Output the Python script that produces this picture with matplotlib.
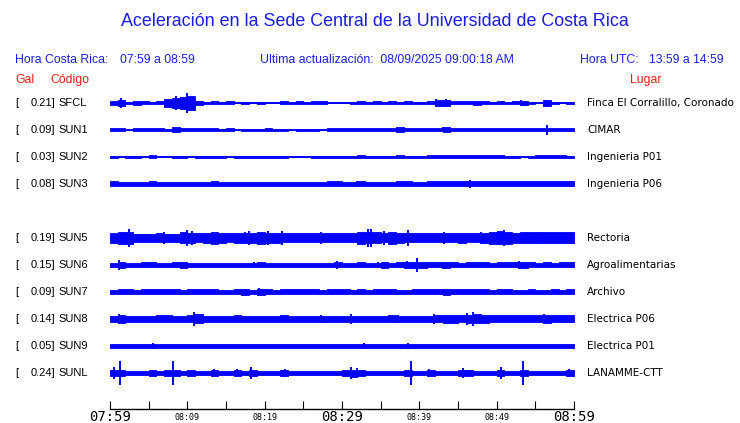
import matplotlib
matplotlib.use("Agg")
import matplotlib.pyplot as plt
import matplotlib.transforms as mtransforms
import numpy as np

# estaciones (codigo, PGA en gal, lugar, fila en la grafica)
codes = ["SFCL", "SUN1", "SUN2", "SUN3", "SUN5", "SUN6", "SUN7", "SUN8", "SUN9", "SUNL"]
pga = [0.21, 0.09, 0.03, 0.08, 0.19, 0.15, 0.09, 0.14, 0.05, 0.24]
places = ["Finca El Corralillo, Coronado", "CIMAR", "Ingenieria P01", "Ingenieria P06",
          "Rectoria", "Agroalimentarias", "Archivo", "Electrica P06", "Electrica P01",
          "LANAMME-CTT"]
rows = [0, 1, 2, 3, 5, 6, 7, 8, 9, 10]

# eje de tiempo (minutos desde 07:59)
tick_minutes = [0, 5, 10, 15, 20, 25, 30, 35, 40, 45, 50, 55, 60]
major_minutes = [0, 30, 60]
major_labels = ["07:59", "08:29", "08:59"]
minor_minutes = [10, 20, 40, 50]
minor_labels = ["08:09", "08:19", "08:39", "08:49"]

env = {
    "SFCL": [2, 3, 1, 2, 1.5, 1, 1.5, 4, 5, 6, 7, 2, 1, 1.5, 1, 1.5, 0.5, 1, 0.5, 1,
             0.5, 0.5, 1.5, 1, 1.5, 1, 1.5, 1.5, 0.5, 0.5, 0.5, 1, 1.5, 1, 1.5, 1, 1.5, 1, 1.5, 1,
             1, 1.5, 3, 3, 1.5, 1.5, 1.5, 2, 1.5, 1, 1.5, 1, 1.5, 2, 1, 0.5, 3, 1, 0.5, 1],
    "SUN1": [1.5, 1.5, 0.5, 1.5, 1.5, 1.5, 1.5, 1, 2.5, 1.5, 1.5, 1.5, 1.5, 1.5, 1, 1.5, 0.5, 1, 1, 1,
             1.5, 1, 1, 0.5, 1, 1, 1, 0.5, 1.5, 1.5, 1.5, 1.5, 1.5, 1.5, 1.5, 1.5, 1.5, 2.5, 1.5, 1.5,
             1.5, 1.5, 1.5, 2.5, 1.5, 1.5, 1.5, 1.5, 1.5, 1.5, 1.5, 1.5, 1.5, 1.5, 1.5, 1.5, 1.5, 1.5, 1.5, 1.5],
    "SUN2": [1, 0.5, 1, 1, 0.5, 1.5, 0.5, 0.5, 1, 1, 0.5, 1, 1, 1, 1, 0.5, 1, 1, 1, 1,
             1, 1, 1, 0.5, 0.5, 0.5, 1, 1, 1, 1, 1, 1, 1.5, 1, 1, 1, 1, 1.5, 1, 1,
             1, 1.5, 1.5, 1.5, 1.5, 1.5, 1.5, 1.5, 1.5, 1.5, 1.5, 1, 1, 0.5, 1, 1.5, 1.5, 1.5, 1.5, 1],
    "SUN3": [2.5, 2, 2, 2, 2, 2.5, 2, 2, 2, 2, 2, 2, 2, 2.5, 2, 2, 2, 2, 2, 2,
             2, 2, 2, 2, 2, 2, 2, 2, 2.5, 2.5, 2, 2, 2.5, 2, 2, 2, 2, 2.5, 2.5, 2,
             2, 2.5, 2.5, 2.5, 2.5, 2.5, 2.5, 2.5, 2.5, 2.5, 2.5, 2.5, 2.5, 2.5, 2.5, 2.5, 2.5, 2.5, 2.5, 2.5],
    "SUN5": [5, 6, 6, 4, 4, 4, 4.5, 4, 4, 5.5, 5, 4.5, 5, 6, 5, 4.5, 5, 5, 5, 6,
             5, 5, 4.5, 4.5, 4.5, 4.5, 4.5, 4.5, 4.5, 4.5, 4.5, 4.5, 6, 5.5, 5.5, 4.5, 6, 5, 4.5, 4.5,
             4.5, 4.5, 4.5, 4.5, 4.5, 5, 4.5, 4.5, 5, 6, 6.5, 6, 5, 5.5, 5.5, 5.5, 5.5, 5.5, 5.5, 5.5],
    "SUN6": [2.2, 3, 2.2, 2.2, 2.5, 2.5, 2.2, 2.2, 2.5, 2.7, 2.2, 2.2, 2.2, 2.2, 2.2, 2.2, 2.2, 2.2, 2.2, 2.5,
             2.2, 2.2, 2.2, 2.2, 2.2, 2.2, 2.2, 2.2, 2.2, 2.5, 2.2, 2.2, 2.5, 2.2, 2.2, 2.7, 2.2, 2.5, 2.7, 2.7,
             3, 2.5, 2.5, 3, 2.5, 2.2, 2.5, 2.5, 2.5, 2.2, 2.5, 2.5, 2.5, 3, 2.5, 2.2, 2.5, 2.2, 2.5, 2.5],
    "SUN7": [2, 2.5, 2.5, 2, 2.5, 2.5, 2.5, 2.5, 2.5, 2, 2.5, 2.5, 2.5, 2.5, 2, 2, 2.5, 3, 2, 3,
             2.5, 2, 2.5, 2.5, 2.5, 2.5, 2.5, 2, 2.5, 2.5, 2.5, 2, 2.5, 2, 2.5, 2.5, 2.5, 2, 2, 2.5,
             2.5, 2.5, 2.5, 3, 2.5, 2.5, 2.5, 2.5, 2.5, 2, 2.5, 2.5, 2, 2, 2.5, 2, 2, 2.5, 2, 2.5],
    "SUN8": [3, 4, 3, 3, 3, 3, 3.5, 3.5, 3, 3, 3.5, 4.5, 3, 3, 3, 3, 3.5, 3, 3, 3,
             3, 3, 3.5, 3, 2.5, 2.5, 2.5, 3, 3, 3, 3, 3, 3, 3, 3, 3, 3.5, 3, 3, 3,
             3, 3, 3.5, 4, 4, 3.5, 4, 4.5, 4, 3.5, 3.5, 3.5, 3.5, 3.5, 3.5, 3.5, 4, 3.5, 3.5, 3.5],
    "SUN9": [1.8, 1.8, 1.8, 1.8, 1.8, 1.8, 1.8, 1.8, 1.8, 1.8, 1.8, 1.8, 1.8, 1.8, 1.8, 1.8, 1.8, 1.8, 1.8, 1.8,
             1.8, 1.8, 1.8, 1.8, 1.8, 1.8, 1.8, 1.8, 1.8, 1.8, 1.8, 1.8, 1.8, 1.8, 1.8, 1.8, 1.8, 1.8, 1.8, 1.8,
             1.8, 1.8, 1.8, 1.8, 1.8, 1.8, 1.8, 1.8, 1.8, 1.8, 1.8, 1.8, 1.8, 1.8, 1.8, 1.8, 1.8, 1.8, 1.8, 1.8],
    "SUNL": [3, 3, 2, 2, 2, 2.5, 2, 2.5, 3, 2, 2.5, 2, 2, 2.5, 2, 2, 2.5, 2, 2.5, 2,
             2, 2, 3, 2, 2, 2, 2, 2, 2, 2, 2.5, 3.5, 2.5, 2, 2, 2, 2, 2, 2.5, 2,
             2, 3, 2, 2, 2, 2.5, 3, 2, 2, 2, 3, 2, 2, 3, 2, 2, 2, 2, 2, 2.5],
}

# picos aislados (minuto, amplitud)
spikes = {
    "SFCL": [(1.4, 5), (8.5, 7), (10.0, 10), (42.2, 4), (43.5, 4), (53.1, 3), (56.3, 3)],
    "SUN1": [(8.6, 2.5), (37.6, 2.5), (43.0, 2.5), (56.5, 5)],
    "SUN2": [(5.3, 1.5)],
    "SUN3": [(32.0, 3), (46.5, 4)],
    "SUN5": [(1.6, 6), (2.5, 9), (7.0, 6), (9.9, 8), (10.6, 7), (13.3, 6), (17.4, 6), (18.0, 7),
             (20.4, 7), (22.2, 7), (27.3, 6), (33.3, 9), (33.8, 9), (35.4, 7), (38.5, 8),
             (43.2, 6), (48.0, 6), (50.3, 7), (51.0, 8), (55.3, 6), (59.6, 6)],
    "SUN6": [(1.1, 5), (4.5, 3), (9.2, 3), (18.6, 3), (29.3, 4), (34.7, 3), (38.4, 4), (39.7, 7),
             (43.0, 3.5), (48.0, 3), (52.9, 4)],
    "SUN7": [(17.5, 3), (19.3, 4), (28.6, 2.5), (43.0, 3)],
    "SUN8": [(1.1, 5), (10.8, 7), (27.3, 4.5), (31.2, 5), (37.2, 4.5), (41.9, 5), (46.2, 6),
             (46.9, 7), (56.1, 5), (59.0, 4)],
    "SUN9": [(5.6, 3), (32.8, 2.5), (38.5, 2.5)],
    "SUNL": [(0.5, 6), (1.3, 12), (8.2, 12), (13.5, 4), (16.4, 4), (18.2, 6), (22.6, 4),
             (31.1, 6), (32.0, 5), (38.9, 12), (41.2, 4), (45.7, 5), (50.6, 6), (53.4, 12), (59.3, 4)],
}

GAIN = 1 / 27.0
BLUE = "#0000ff"
TXT_BLUE = "#1c1ce6"
RED = "#ff1a1a"

W, H = 740, 423
fig = plt.figure(figsize=(W / 100, H / 100), dpi=100)

def fx(px):
    return px / W

def fy(py):
    return 1 - py / H

# panel de trazas: x de 110 a 574 px, eje en y=409 px
ax = fig.add_axes([fx(110), fy(409), fx(574) - fx(110), (409 - 88) / H])
ax.set_xlim(0, 60)
ax.set_ylim((409 - 103) / 27.0, (88 - 103) / 27.0)

t = np.arange(61)
for code, row in zip(codes, rows):
    e = np.array(env[code], dtype=float) * GAIN
    e = np.append(e, e[-1])
    ax.fill_between(t, row - e, row + e, step="post", facecolor=BLUE, edgecolor=BLUE, lw=0.6)
    ax.plot([0, 60], [row, row], color=BLUE, lw=1.3)
    sx = [s[0] for s in spikes[code]]
    sa = np.array([s[1] for s in spikes[code]]) * GAIN
    ax.vlines(sx, row - sa, row + sa, color=BLUE, lw=1.4)

for s in ["left", "right", "top"]:
    ax.spines[s].set_visible(False)
ax.spines["bottom"].set_linewidth(1)
ax.set_yticks([])
ax.set_xticks(major_minutes)
ax.set_xticklabels(major_labels, fontfamily="DejaVu Sans Mono", fontsize=10)
ax.set_xticks(tick_minutes, minor=True)
ax.set_xticklabels(["" if m not in minor_minutes else minor_labels[minor_minutes.index(m)]
                    for m in tick_minutes], minor=True, fontfamily="DejaVu Sans Mono", fontsize=6)
ax.tick_params(axis="x", which="both", direction="in", length=6, width=0.8, pad=1)
ax.tick_params(axis="x", which="minor", pad=3)

# etiquetas por fila
tr = mtransforms.blended_transform_factory(fig.transFigure, ax.transData)
for code, val, place, row in zip(codes, pga, places, rows):
    fig.text(fx(15), row, "[", transform=tr, fontfamily="Liberation Sans", fontsize=8,
             va="center", ha="left")
    fig.text(fx(55.5), row, f"{val:.2f}]", transform=tr, fontfamily="Liberation Sans",
             fontsize=8, va="center", ha="right")
    fig.text(fx(58), row, code, transform=tr, fontfamily="Liberation Sans", fontsize=8,
             va="center", ha="left")
    fig.text(fx(587), row, place, transform=tr, fontfamily="DejaVu Sans", fontsize=7.5,
             va="center", ha="left")

# encabezados
fig.text(fx(375), fy(22), "Aceleración en la Sede Central de la Universidad de Costa Rica",
         fontfamily="Liberation Sans", fontsize=12.9, color=TXT_BLUE, ha="center", va="center")
hdr = dict(fontfamily="Liberation Sans", fontsize=8.8, color=TXT_BLUE, va="center")
fig.text(fx(15), fy(60), "Hora Costa Rica:", ha="left", **hdr)
fig.text(fx(120), fy(60), "07:59 a 08:59", ha="left", **hdr)
fig.text(fx(260), fy(60), "Ultima actualización:  08/09/2025 09:00:18 AM", ha="left", **hdr)
fig.text(fx(580), fy(60), "Hora UTC:", ha="left", **hdr)
fig.text(fx(724), fy(60), "13:59 a 14:59", ha="right", **hdr)
red = dict(fontfamily="Liberation Sans", fontsize=8.8, color=RED, va="center")
fig.text(fx(15), fy(80), "Gal", ha="left", **red)
fig.text(fx(50), fy(80), "Código", ha="left", **red)
fig.text(fx(646), fy(80), "Lugar", ha="center", **red)

fig.savefig("out.png", dpi=100)
